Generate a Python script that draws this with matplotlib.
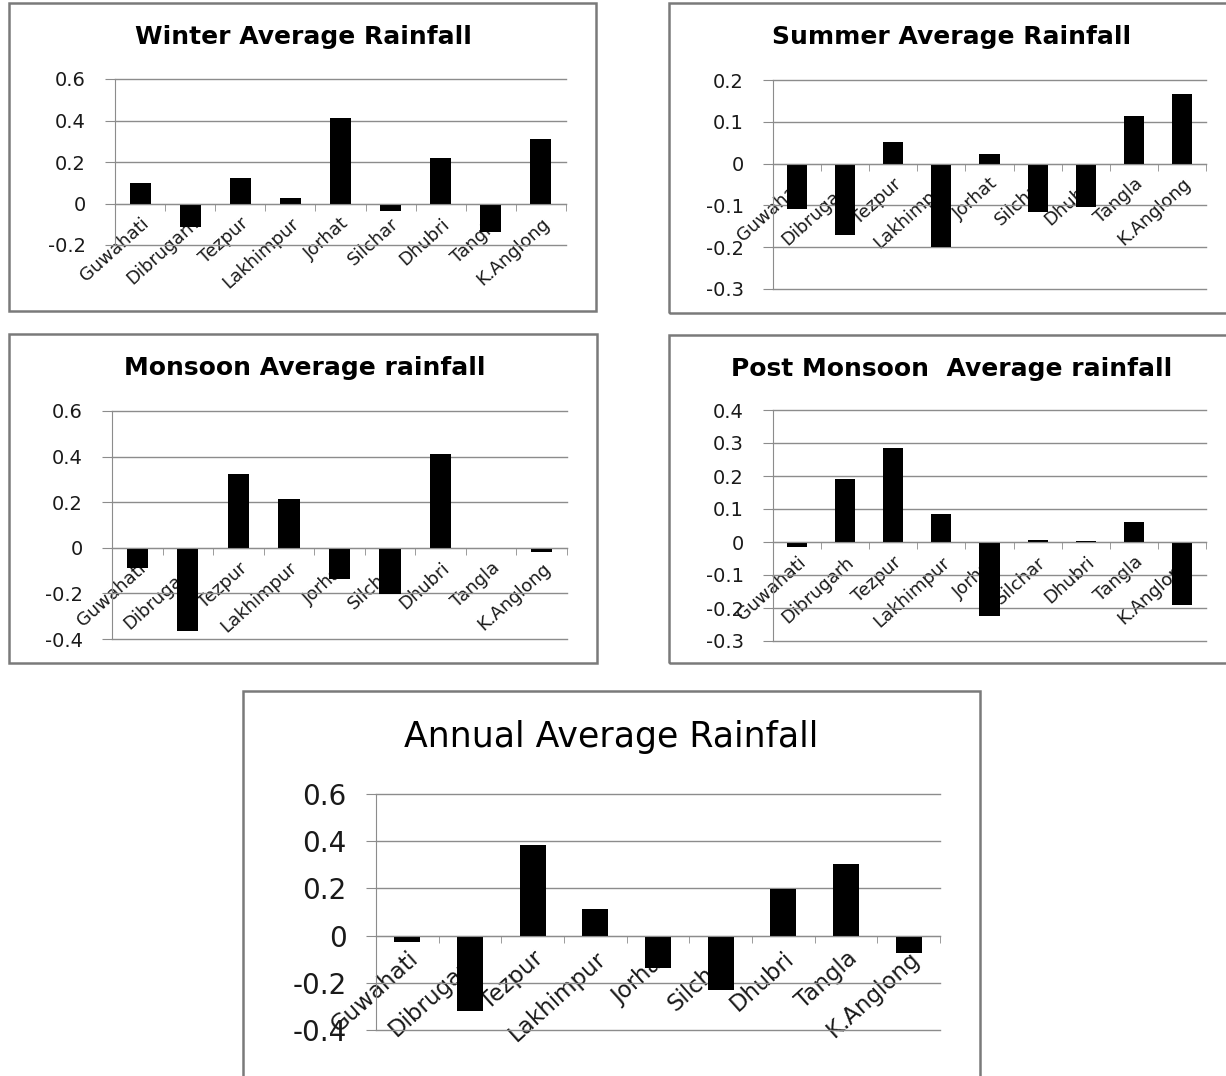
import matplotlib.pyplot as plt
from matplotlib.patches import Rectangle
from matplotlib.ticker import FixedLocator

plt.rcParams['font.family'] = ['DejaVu Sans']

stations = ['Guwahati', 'Dibrugarh', 'Tezpur', 'Lakhimpur', 'Jorhat',
            'Silchar', 'Dhubri', 'Tangla', 'K.Anglong']

winter = [0.100, -0.111, 0.124, 0.026, 0.411, -0.038, 0.218, -0.135, 0.313]
summer = [-0.108, -0.170, 0.052, -0.200, 0.022, -0.115, -0.103, 0.113, 0.166]
monsoon = [-0.088, -0.365, 0.322, 0.212, -0.139, -0.204, 0.413, 0.0, -0.020]
post_monsoon = [-0.014, 0.190, 0.284, 0.084, -0.223, 0.005, 0.004, 0.062, -0.190]
annual = [-0.028, -0.320, 0.382, 0.113, -0.137, -0.232, 0.196, 0.304, -0.073]

winter_ticks = [-0.2, 0, 0.2, 0.4, 0.6]
summer_ticks = [-0.3, -0.2, -0.1, 0, 0.1, 0.2]
monsoon_ticks = [-0.4, -0.2, 0, 0.2, 0.4, 0.6]
post_ticks = [-0.3, -0.2, -0.1, 0, 0.1, 0.2, 0.3, 0.4]
annual_ticks = [-0.4, -0.2, 0, 0.2, 0.4, 0.6]

W, H = 1226, 1076
fig = plt.figure(figsize=(W / 100, H / 100), dpi=100)
GRID = '#8c8c8c'


def frac(x0, y0, x1, y1):
    # pixel box (top-left origin) -> figure fraction [left, bottom, width, height]
    return [x0 / W, 1 - y1 / H, (x1 - x0) / W, (y1 - y0) / H]


def label(v):
    return '0' if abs(v) < 1e-9 else f'{v:g}'


def panel(frame, axbox, values, ticks, title, title_x, title_y, title_kw,
          tick_size, cat_size):
    l, b, w, h = frac(*frame)
    fig.patches.append(Rectangle((l, b), w, h, transform=fig.transFigure,
                                 fill=False, ec='#7a7a7a', lw=1.8))
    fig.text(title_x / W, 1 - title_y / H, title, ha='center', va='center',
             **title_kw)

    ax = fig.add_axes(frac(*axbox))
    x = range(len(stations))
    ax.bar(x, values, width=0.42, color='black', zorder=2)
    ax.set_xlim(-0.5, len(stations) - 0.5)
    ax.set_ylim(ticks[0], ticks[-1])
    ax.set_axisbelow(True)

    for s in ('top', 'right'):
        ax.spines[s].set_visible(False)
    ax.spines['left'].set_color(GRID)
    ax.spines['bottom'].set_color(GRID)
    ax.spines['bottom'].set_position(('data', 0))

    ax.set_yticks(ticks)
    ax.set_yticklabels([label(t) for t in ticks])
    ax.tick_params(axis='y', length=7, color=GRID, pad=14,
                   labelsize=tick_size, labelcolor='#1a1a1a')
    ax.yaxis.grid(True, color=GRID, lw=1.0)
    for gl in ax.get_ygridlines():
        gl.set_clip_on(False)

    ax.set_xticks(list(x))
    ax.set_xticklabels(stations, rotation=42, ha='right',
                       rotation_mode='anchor', fontsize=cat_size,
                       color='#1a1a1a')
    ax.tick_params(axis='x', which='major', length=0, pad=8)
    ax.xaxis.set_minor_locator(FixedLocator([i - 0.5 for i in range(len(stations) + 1)]))
    ax.tick_params(axis='x', which='minor', length=5, color=GRID, direction='out')
    return ax


small_title = dict(fontsize=18, fontweight='bold')

panel((9, 3, 596, 311), (115, 79, 566, 245), winter, winter_ticks,
      'Winter Average Rainfall', 303, 37, small_title, 14, 13)
panel((669, 3, 1232, 313), (773, 80, 1206, 289), summer, summer_ticks,
      'Summer Average Rainfall', 952, 37, small_title, 14, 13)
panel((9, 334, 597, 663), (112, 411, 567, 639), monsoon, monsoon_ticks,
      'Monsoon Average rainfall', 305, 368, small_title, 14, 13)
panel((669, 335, 1232, 663), (773, 410, 1206, 641), post_monsoon, post_ticks,
      'Post Monsoon  Average rainfall', 952, 369, small_title, 14, 13)
panel((243, 691, 980, 1082), (376, 794, 940, 1030), annual, annual_ticks,
      'Annual Average Rainfall', 611, 737, dict(fontsize=25), 20, 16.5)

fig.savefig('out.png', dpi=100)
